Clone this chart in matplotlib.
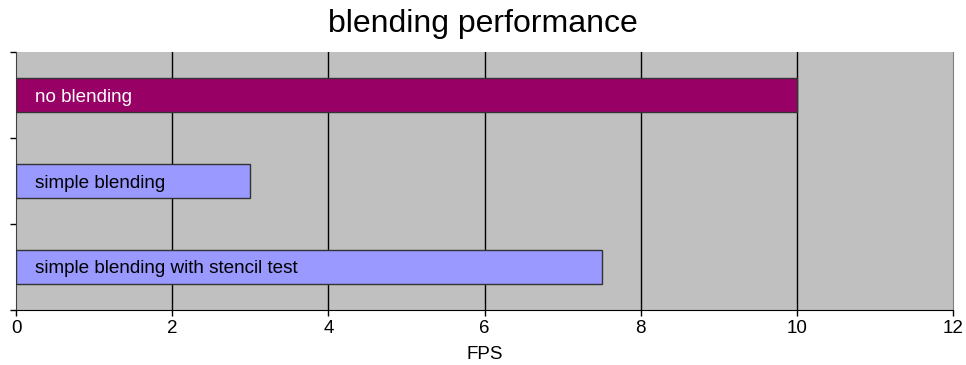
import matplotlib.pyplot as plt

# ---- Data ----------------------------------------------------------------
categories = ["no blending", "simple blending", "simple blending with stencil test"]
fps = [10, 3, 7.5]
bar_colors = ["#990066", "#9999FF", "#9999FF"]
label_colors = ["white", "black", "black"]
x_ticks = [0, 2, 4, 6, 8, 10, 12]

plt.rcParams["font.family"] = ["Liberation Sans", "DejaVu Sans"]

# ---- Figure setup --------------------------------------------------------
fig = plt.figure(figsize=(9.66, 3.65), dpi=100)
ax = fig.add_axes([0.0166, 0.1507, 0.97, 0.7068])
ax.set_facecolor("#C0C0C0")

ypos = list(range(len(categories)))
ax.barh(ypos, fps, height=0.4, color=bar_colors,
        edgecolor="#333333", linewidth=1.0, zorder=3)

for y, name, col in zip(ypos, categories, label_colors):
    ax.text(0.24, y, name, ha="left", va="center_baseline",
            fontsize=13.6, color=col, zorder=4)

ax.set_xlim(0, 12)
ax.set_ylim(2.5, -0.5)
ax.set_xticks(x_ticks)
ax.set_xticklabels([str(t) for t in x_ticks], fontsize=13.5)
ax.set_yticks([-0.5, 0.5, 1.5, 2.5])
ax.set_yticklabels([])
ax.tick_params(axis="both", direction="out", length=4, width=1, color="black")

for xv in x_ticks[1:-1]:
    ax.axvline(xv, color="black", linewidth=1.0, zorder=1)

ax.spines["top"].set_visible(False)
ax.spines["right"].set_color("#808080")
ax.spines["left"].set_color("#404040")
ax.spines["bottom"].set_color("black")

ax.set_xlabel("FPS", fontsize=13.5, labelpad=6)
fig.text(0.5, 0.935, "blending performance", ha="center", va="center",
         fontsize=23)

plt.savefig("out.png", dpi=100)
